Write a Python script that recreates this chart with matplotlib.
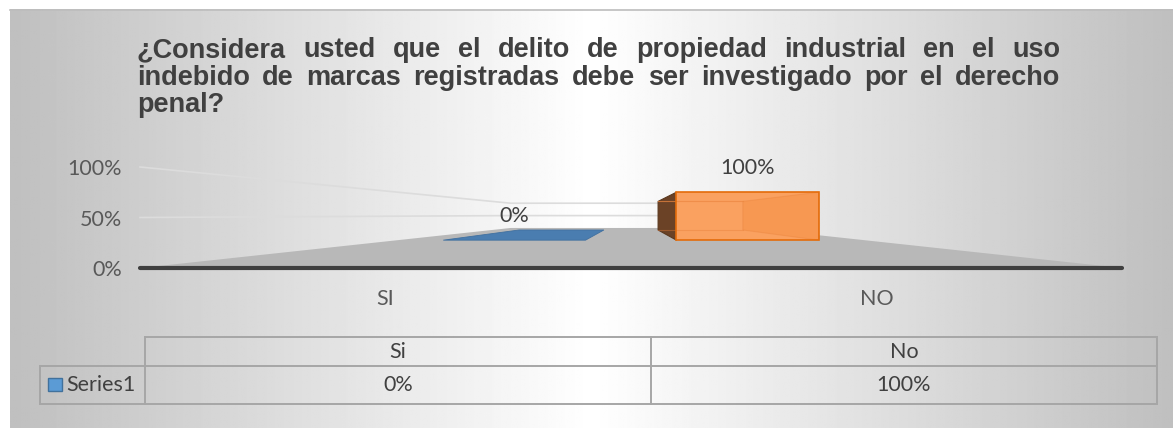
import numpy as np
import matplotlib
matplotlib.use("Agg")
import matplotlib.pyplot as plt
from matplotlib.patches import Polygon, Rectangle

# data
categories = ["SI", "NO"]
table_cols = ["Si", "No"]
series_name = "Series1"
values = [0.0, 1.0]
y_ticks = [0.0, 0.5, 1.0]
y_tick_labels = ["0%", "50%", "100%"]
title_lines = [
    "¿Considera usted que el delito de propiedad industrial en el uso",
    "indebido de marcas registradas debe ser investigado por el derecho",
    "penal?",
]

W, H = 1173, 428
fig = plt.figure(figsize=(W / 100, H / 100), dpi=100)

# background axes in pixel coords
bg = fig.add_axes([0, 0, 1, 1])
bg.set_xlim(0, W)
bg.set_ylim(H, 0)
bg.axis("off")
fig.patch.set_facecolor("white")

xs = np.linspace(0, 1, 600)
prof = 1 - np.abs(xs - 0.5) * 2
shade = 0.75 + 0.25 * prof
grad = np.tile(shade, (10, 1))
bg.imshow(grad, cmap="gray", vmin=0, vmax=1, extent=[10, W, H, 9],
          aspect="auto", zorder=0)
bg.plot([10, W], [9.5, 9.5], color="#bdbdbd", lw=1.2, zorder=1)

# title, justified like the original
txt_col = "#404040"
title_fs = 19.5
renderer = fig.canvas.get_renderer()
t_left, t_right = 137, 1060
baselines = [57, 85, 112]
for k, line in enumerate(title_lines):
    words = line.split(" ")
    objs = [bg.text(0, baselines[k], w_, fontsize=title_fs, fontweight="bold",
                    family="Liberation Sans", color=txt_col, va="baseline",
                    ha="left") for w_ in words]
    widths = [o.get_window_extent(renderer).width for o in objs]
    if k < len(title_lines) - 1 and len(words) > 1:
        gap = (t_right - t_left - sum(widths)) / (len(words) - 1)
    else:
        gap = title_fs * 0.35
    x = t_left
    for o, wd in zip(objs, widths):
        o.set_x(x)
        x += wd + gap

# main axes: front plane of the 3d chart
ax_l, ax_r, ax_zero, ax_full = 140, 1122, 268, 167
ax = fig.add_axes([ax_l / W, (H - ax_zero) / H, (ax_r - ax_l) / W,
                   (ax_zero - ax_full) / H])
ax.set_xlim(-0.5, len(categories) - 0.5)
ax.set_ylim(0, 1)
ax.patch.set_alpha(0)
for s in ax.spines.values():
    s.set_visible(False)

# perspective: vanishing point and depths
VX = (len(categories) - 1) / 2
VY = 0.525
S_FLOOR = 0.245
S_FRONT = 0.475
S_BACK = 0.283
bar_w = 0.61


def proj(x, y, s):
    return VX + s * (x - VX), VY + s * (y - VY)


x_lo, x_hi = -0.5, len(categories) - 0.5

# gridlines on side wall and back wall
for yv in y_ticks[1:]:
    pts = [proj(x_lo, yv, 1), proj(x_lo, yv, S_FLOOR), proj(x_hi, yv, S_FLOOR)]
    ax.plot([p[0] for p in pts], [p[1] for p in pts], color="#dcdcdc",
            lw=1.2, zorder=1, clip_on=False)

# floor
floor = [proj(x_lo, 0, 1), proj(x_hi, 0, 1), proj(x_hi, 0, S_FLOOR),
         proj(x_lo, 0, S_FLOOR)]
ax.add_patch(Polygon(floor, closed=True, facecolor="#b8b8b8",
                     edgecolor="none", zorder=2, clip_on=False))
ax.plot([x_lo, x_hi], [0, 0], color="#3f3f3f", lw=3, zorder=3,
        solid_capstyle="round", clip_on=False)

# bars
blue_top = "#4a7db0"
or_front, or_edge, or_side = "#faa160", "#e46c0a", "#6b4226"
lab_fs = 15.5
for i, v in enumerate(values):
    x0, x1 = i - bar_w / 2, i + bar_w / 2
    if v == 0:
        top = [proj(x0, v, S_FRONT), proj(x1, v, S_FRONT),
               proj(x1, v, S_BACK), proj(x0, v, S_BACK)]
        ax.add_patch(Polygon(top, closed=True, facecolor=blue_top,
                             edgecolor="#41709f", lw=0.6, zorder=4,
                             clip_on=False))
    else:
        if x0 > VX:
            side = [proj(x0, 0, S_FRONT), proj(x0, v, S_FRONT),
                    proj(x0, v, S_BACK), proj(x0, 0, S_BACK)]
            ax.add_patch(Polygon(side, closed=True, facecolor=or_side,
                                 edgecolor="#5a381e", lw=0.8, zorder=4,
                                 clip_on=False))
        front = [proj(x0, 0, S_FRONT), proj(x1, 0, S_FRONT),
                 proj(x1, v, S_FRONT), proj(x0, v, S_FRONT)]
        ax.add_patch(Polygon(front, closed=True, facecolor=or_front,
                             edgecolor="none", zorder=5, clip_on=False))
        # hidden right face, seen through
        rface = [proj(x1, 0, S_FRONT), proj(x1, v, S_FRONT),
                 proj(x1, v, S_BACK), proj(x1, 0, S_BACK)]
        ax.add_patch(Polygon(rface, closed=True, facecolor="#f28a3a",
                             alpha=0.35, edgecolor="#e8803a", lw=0.8,
                             zorder=6, clip_on=False))
        bx = [proj(max(x0, VX), v, S_BACK), proj(x1, v, S_BACK)]
        ax.plot([bx[0][0], bx[1][0]], [bx[0][1], bx[1][1]], color="#ec8741",
                lw=0.8, alpha=0.7, zorder=6, clip_on=False)
        bb = [proj(x0, 0, S_BACK), proj(x1, 0, S_BACK)]
        ax.plot([bb[0][0], bb[1][0]], [bb[0][1], bb[1][1]], color="#e8803a",
                lw=0.8, alpha=0.4, zorder=6, clip_on=False)
        ax.add_patch(Polygon(front, closed=True, facecolor="none",
                             edgecolor=or_edge, lw=1.2, zorder=7,
                             clip_on=False))
    lx, ly = proj(i, v, S_FRONT)
    ax.annotate(f"{v:.0%}", (lx, ly), xytext=(0, 17.3),
                textcoords="offset points", ha="center", va="center",
                fontsize=lab_fs, family="Lato", color=txt_col, zorder=8)

ax.set_yticks(y_ticks)
ax.set_yticklabels(y_tick_labels, family="Lato", fontsize=lab_fs,
                   color="#595959")
ax.set_xticks(range(len(categories)))
ax.set_xticklabels(categories, family="Lato", fontsize=lab_fs,
                   color="#595959")
ax.tick_params(axis="y", length=0, pad=13)
ax.tick_params(axis="x", length=0, pad=15)

# data table
tb_col = "#a6a6a6"
tab_fs = 15.5
x_a, x_b, x_c, x_d = 40, 145, 651, 1157
y_a, y_b, y_c = 337, 366, 404
bg.plot([x_b, x_d], [y_a, y_a], color=tb_col, lw=1.4, zorder=3)
bg.plot([x_a, x_d], [y_b, y_b], color=tb_col, lw=1.4, zorder=3)
bg.plot([x_a, x_d], [y_c, y_c], color=tb_col, lw=1.4, zorder=3)
bg.plot([x_a, x_a], [y_b, y_c], color=tb_col, lw=1.4, zorder=3)
for xv in (x_b, x_c, x_d):
    bg.plot([xv, xv], [y_a, y_c], color=tb_col, lw=1.4, zorder=3)
col_x = [(x_b + x_c) / 2, (x_c + x_d) / 2]
for cx, name, v in zip(col_x, table_cols, values):
    bg.text(cx, (y_a + y_b) / 2, name, ha="center", va="center",
            family="Lato", fontsize=tab_fs, color=txt_col)
    bg.text(cx, (y_b + y_c) / 2, f"{v:.0%}", ha="center", va="center",
            family="Lato", fontsize=tab_fs, color=txt_col)
bg.add_patch(Rectangle((48, 378), 14, 13, facecolor="#5b9bd5",
                       edgecolor="#41719c", lw=1, zorder=4))
bg.text(66, (y_b + y_c) / 2, series_name, ha="left", va="center",
        family="Lato", fontsize=tab_fs, color=txt_col)

fig.savefig("out.png", dpi=100)
